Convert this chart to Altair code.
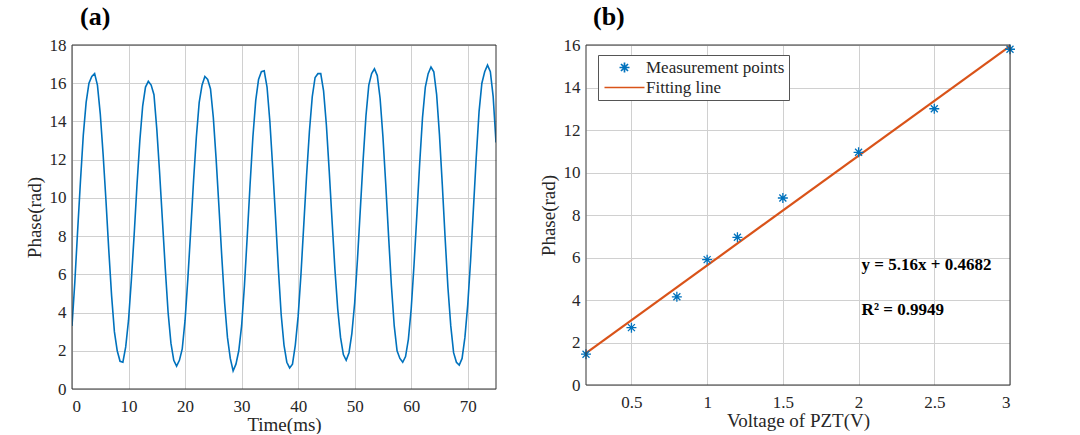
import altair as alt
import pandas as pd

FONT = "Liberation Serif"
TXT = "#262626"
FRAME = "#333333"

# ---------------- Panel (a): phase vs time ----------------
time_step_ms = 0.5
phase_a = [
    3.3, 5.6, 8.3, 10.9, 13.3, 15.0, 16.0, 16.35, 16.5, 15.9,
    14.4, 12.3, 9.9, 7.3, 4.9, 3.0, 2.0, 1.45, 1.4, 2.2,
    3.6, 5.7, 8.1, 10.7, 13.0, 14.8, 15.8, 16.1, 15.9, 15.4,
    13.6, 11.3, 8.8, 6.3, 4.0, 2.4, 1.5, 1.2, 1.5, 2.1,
    3.6, 5.8, 8.3, 10.9, 13.2, 15.0, 15.9, 16.35, 16.2, 15.7,
    14.2, 12.0, 9.5, 6.9, 4.5, 2.7, 1.6, 0.95, 1.3, 2.0,
    3.3, 5.4, 8.0, 10.7, 13.2, 15.1, 16.2, 16.6, 16.65, 15.8,
    14.0, 11.6, 9.0, 6.3, 3.9, 2.3, 1.4, 1.1, 1.3, 2.3,
    3.8, 6.0, 8.6, 11.2, 13.5, 15.3, 16.3, 16.5, 16.5, 15.6,
    13.8, 11.4, 8.8, 6.3, 4.2, 2.7, 1.8, 1.5, 1.9, 2.9,
    4.5, 6.8, 9.4, 12.0, 14.3, 15.9, 16.5, 16.75, 16.4, 15.2,
    13.2, 10.7, 8.0, 5.4, 3.3, 2.0, 1.6, 1.4, 1.7, 2.6,
    4.2, 6.5, 9.1, 11.8, 14.2, 15.8, 16.5, 16.85, 16.6, 15.4,
    13.3, 10.7, 7.9, 5.3, 3.3, 1.9, 1.4, 1.25, 1.6, 2.7,
    4.4, 6.7, 9.4, 12.1, 14.5, 16.0, 16.6, 16.95, 16.6, 15.3,
    12.9,
]
time_ms = [i * time_step_ms for i in range(len(phase_a))]
x_dom_a = [0, 75]
y_dom_a = [0, 18]
x_ticks_a = [0, 10, 20, 30, 40, 50, 60, 70]
y_ticks_a = [0, 2, 4, 6, 8, 10, 12, 14, 16, 18]

# ---------------- Panel (b): phase vs PZT voltage ----------------
voltage = [0.2, 0.5, 0.8, 1.0, 1.2, 1.5, 2.0, 2.5, 3.0]
phase_b = [1.45, 2.7, 4.15, 5.9, 6.95, 8.8, 10.95, 13.0, 15.8]
fit_x = [0.2, 3.0]
fit_y = [1.50, 15.95]
x_dom_b = [0.2, 3]
y_dom_b = [0, 16]
x_ticks_b = [0.5, 1, 1.5, 2, 2.5, 3]
y_ticks_b = [0, 2, 4, 6, 8, 10, 12, 14, 16]
series_names = ["Measurement points", "Fitting line"]
series_colors = ["#0072BD", "#D95319"]
ann_text = ["y = 5.16x + 0.4682", "R\u00b2 = 0.9949"]
ann_x = [2.02, 2.02]
ann_y = [5.65, 3.55]

ASTERISK = "M0,-1L0,1M-1,0L1,0M-0.7,-0.7L0.7,0.7M-0.7,0.7L0.7,-0.7"
LINE_SYMBOL = "M-4,0L4,0"


def panel_title(txt, dx):
    return alt.TitleParams(txt, anchor="start", frame="group", font=FONT,
                           fontSize=26, fontWeight="bold", color="black",
                           dx=dx, offset=6)


def frame(xd, yd, ax_x, ax_y, sc_x, sc_y):
    return alt.Chart(pd.DataFrame({"k": [0]})).mark_rect(
        filled=False, stroke=FRAME, strokeWidth=1).encode(
        x=alt.XDatum(xd[0], axis=ax_x, scale=sc_x), x2=alt.X2Datum(xd[1]),
        y=alt.YDatum(yd[0], axis=ax_y, scale=sc_y), y2=alt.Y2Datum(yd[1]))


# panel (a)
sc_xa = alt.Scale(domain=x_dom_a, nice=False, zero=False)
sc_ya = alt.Scale(domain=y_dom_a, nice=False)
ax_xa = alt.Axis(values=x_ticks_a, title="Time(ms)", grid=True)
ax_ya = alt.Axis(values=y_ticks_a, title="Phase(rad)", grid=True)

df_a = pd.DataFrame({"t": time_ms, "phase": phase_a})
line_a = alt.Chart(df_a).mark_line(color="#0072BD", strokeWidth=1.6, clip=True).encode(
    x=alt.X("t:Q", scale=sc_xa, axis=ax_xa),
    y=alt.Y("phase:Q", scale=sc_ya, axis=ax_ya),
)
chart_a = alt.layer(line_a, frame(x_dom_a, y_dom_a, ax_xa, ax_ya, sc_xa, sc_ya)).properties(
    width=424, height=344, title=panel_title("(a)", 8))

# panel (b)
sc_xb = alt.Scale(domain=x_dom_b, nice=False, zero=False)
sc_yb = alt.Scale(domain=y_dom_b, nice=False)
ax_xb = alt.Axis(values=x_ticks_b, format="~g", title="Voltage of PZT(V)", grid=True)
ax_yb = alt.Axis(values=y_ticks_b, title="Phase(rad)", grid=True)

df_pts = pd.DataFrame({"v": voltage, "phase": phase_b, "series": series_names[0]})
df_fit = pd.DataFrame({"v": fit_x, "phase": fit_y, "series": series_names[1]})
df_ann = pd.DataFrame({"x": ann_x, "y": ann_y, "label": ann_text})

xb = alt.X("v:Q", scale=sc_xb, axis=ax_xb)
yb = alt.Y("phase:Q", scale=sc_yb, axis=ax_yb)
color_b = alt.Color("series:N", scale=alt.Scale(domain=series_names, range=series_colors),
                    legend=alt.Legend(title=None, orient="none", legendX=526, legendY=10,
                                      fillColor="white", strokeColor="#555555",
                                      padding=4, labelFont=FONT, labelFontSize=17,
                                      labelColor=TXT, labelOffset=13, symbolOffset=14,
                                      symbolStrokeWidth=1.7, rowPadding=2,
                                      labelLimit=300))
shape_b = alt.Shape("series:N", scale=alt.Scale(domain=series_names,
                                                range=[ASTERISK, LINE_SYMBOL]))

fit_line = alt.Chart(df_fit).mark_line(strokeWidth=2.2).encode(x=xb, y=yb, color=color_b)
points = alt.Chart(df_pts).mark_point(filled=False, strokeWidth=1.3, opacity=1, size=100).encode(
    x=xb, y=yb, color=color_b, shape=shape_b)
ann = alt.Chart(df_ann).mark_text(align="left", baseline="middle", font=FONT,
                                  fontSize=17, fontWeight="bold", color="black").encode(
    x=alt.X("x:Q", scale=sc_xb, axis=ax_xb), y=alt.Y("y:Q", scale=sc_yb, axis=ax_yb),
    text="label:N")

chart_b = alt.layer(fit_line, points, ann,
                    frame(x_dom_b, y_dom_b, ax_xb, ax_yb, sc_xb, sc_yb)).properties(
    width=424, height=340, title=panel_title("(b)", 7))

chart = alt.hconcat(chart_a, chart_b, spacing=90, bounds="flush").properties(
    padding={"left": 25, "top": 4, "right": 0, "bottom": 0},
).configure_view(stroke=None).configure_axis(
    labelFont=FONT, labelFontSize=17, labelColor=TXT, labelPadding=6,
    titleFont=FONT, titleFontSize=19, titleFontWeight="normal", titleColor=TXT,
    titlePadding=5, ticks=False, domain=False, gridColor="#d0d0d0", gridWidth=1,
    labelOverlap=False,
).configure_axisX(titlePadding=1, labelPadding=9)

chart.save("out.html", embed_options={"renderer": "svg", "actions": False})
